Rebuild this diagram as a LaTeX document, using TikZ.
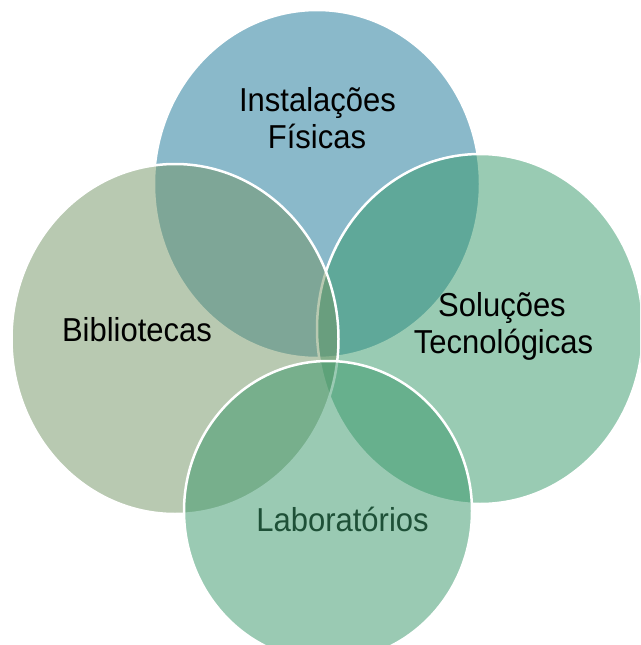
\documentclass[tikz,border=0pt]{standalone}
\usepackage{fontspec}
\setmainfont{Liberation Sans}
\usepackage{graphicx}
\definecolor{ctop}{RGB}{23,117,151}
\definecolor{cright}{RGB}{53,153,105}
\definecolor{cleft}{RGB}{115,149,101}
\definecolor{cbot}{RGB}{55,151,105}
\definecolor{labtext}{RGB}{30,80,55}
\newcommand{\vs}[1]{\scalebox{1}[1.07]{#1}}
\begin{document}
\begin{tikzpicture}[x=1pt,y=-1pt,
  venn/.style={fill=#1, fill opacity=0.5, draw=white, draw opacity=1, line width=2.5pt},
  lbl/.style={anchor=base, inner sep=0pt, font=\fontsize{31}{34}\selectfont, text=black}]
\useasboundingbox (0,0) rectangle (640,645);
\clip (0,0) rectangle (640,645);
\fill[white] (0,0) rectangle (640,645);
\draw[venn=ctop] (317,184) ellipse [x radius=163, y radius=174];
\draw[venn=cright] (480,329) ellipse [x radius=163, y radius=175];
\draw[venn=cleft] (175,339) ellipse [x radius=163.5, y radius=175];
\draw[venn=cbot] (328,511) ellipse [x radius=144, y radius=150];
\node[lbl] (inst1) at (317.5,111) {\vs{Instalações}};
\node[lbl] (inst2) at (317,148) {\vs{Físicas}};
\node[lbl] (bib) at (137,341) {\vs{Bibliotecas}};
\node[lbl] (sol1) at (502,316) {\vs{Soluções}};
\node[lbl] (sol2) at (503.5,353) {\vs{Tecnológicas}};
\node[lbl, text=labtext] (lab) at (342.5,531) {\vs{Laboratórios}};
\end{tikzpicture}
\end{document}
